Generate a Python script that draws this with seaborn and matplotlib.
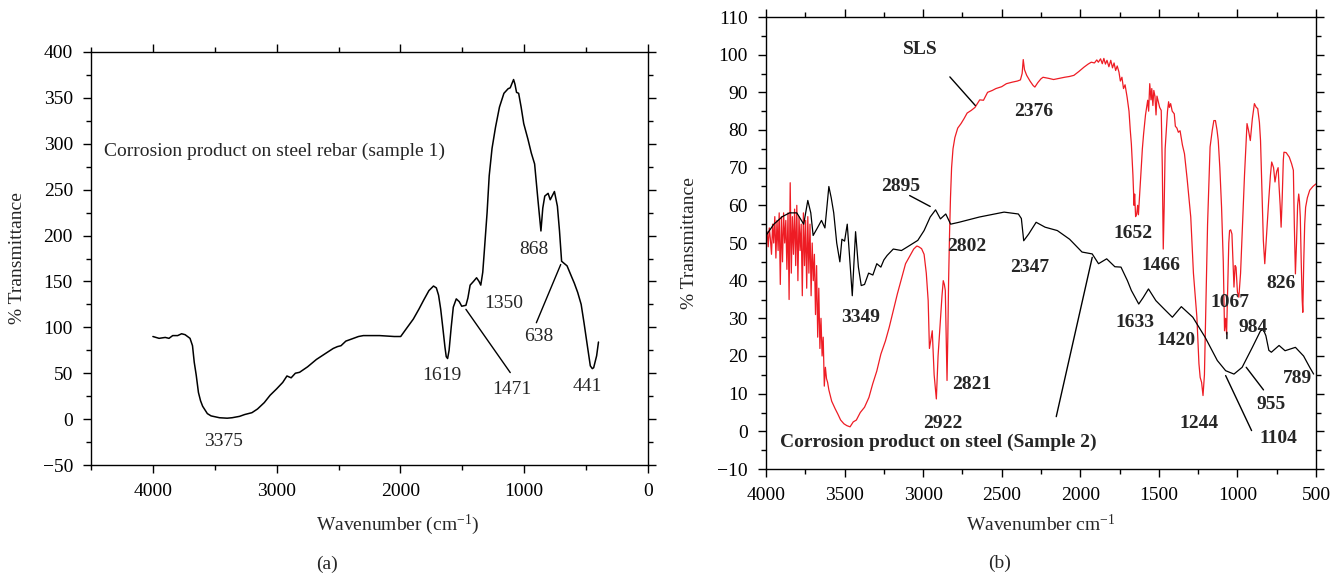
import matplotlib
matplotlib.use("Agg")
import matplotlib.pyplot as plt
import seaborn as sns
import pandas as pd

# ---------------- data: panel (a) ----------------
wn_a = [4000, 3950, 3900, 3870, 3840, 3800, 3768, 3740, 3700, 3680, 3666, 3650, 3632, 3615, 3598,
        3560, 3530, 3462, 3400, 3360, 3300, 3258, 3200, 3155, 3100, 3053, 3000, 2951, 2917, 2883,
        2849, 2815, 2750, 2679, 2600, 2543, 2509, 2480, 2441, 2400, 2339, 2300, 2168, 2050, 1998,
        1950, 1896, 1850, 1811, 1770, 1733, 1710, 1692, 1675, 1658, 1640, 1630, 1619, 1607, 1590,
        1573, 1549, 1525, 1505, 1471, 1455, 1437, 1410, 1385, 1365, 1351, 1335, 1324, 1300, 1283,
        1260, 1232, 1200, 1164, 1130, 1113, 1086, 1075, 1062, 1045, 1025, 1004, 970, 943, 916,
        890, 865, 850, 834, 807, 790, 756, 732, 715, 698, 654, 620, 595, 568, 540, 517, 490, 466,
        450, 439, 415, 400]
tr_a = [90, 88, 89, 88, 91, 91, 93, 92, 88, 80, 62, 48, 29, 20, 14,
        6, 3.5, 1.5, 1, 1.5, 3, 5, 7, 11, 18, 26, 33, 40, 47, 45,
        50, 51, 57, 65, 72, 77, 79, 80, 85, 87, 90, 91, 91, 90, 90,
        99, 109, 120, 130, 140, 145, 143, 135, 120, 100, 78, 68, 66, 75, 100,
        122, 131, 128, 123, 124, 132, 146, 150, 154, 150, 146, 160, 180, 225, 265,
        295, 318, 340, 355, 360, 361, 370, 365, 356, 355, 340, 322, 305, 290, 278,
        240, 205, 230, 243, 246, 239, 248, 232, 205, 172, 167, 156, 148, 138, 125, 105, 80, 58,
        55, 56, 69, 84]

# ---------------- data: panel (b) ----------------
wn_b_black = [4000, 3950, 3896, 3850, 3804, 3760, 3734, 3715, 3700, 3673, 3647, 3625, 3600, 3585,
              3569, 3550, 3530, 3517, 3500, 3483, 3465, 3451, 3440, 3430, 3412, 3394, 3373, 3347,
              3320, 3295, 3269, 3250, 3229, 3190, 3138, 3099, 3034, 2994, 2955, 2921, 2890, 2856,
              2825, 2772, 2642, 2485, 2394, 2375, 2360, 2328, 2281, 2224, 2146, 2068, 1989, 1924,
              1884, 1832, 1780, 1741, 1700, 1675, 1628, 1600, 1566, 1519, 1467, 1414, 1357, 1284,
              1206, 1128, 1075, 1022, 970, 905, 853, 835, 819, 800, 784, 735, 697, 631, 579, 540, 515]
tr_b_black = [52, 55, 57, 58, 58, 55, 61.3, 58, 52, 54, 56, 54, 65, 62,
              58, 50, 45, 51, 50.5, 55, 44.5, 36, 45, 53, 43.6, 38.7, 39, 42,
              41.5, 44.5, 43.6, 45.5, 46.7, 48.4, 48, 49, 50.7, 53.3, 56.9, 58.8, 56.4, 57.7,
              55, 55.5, 56.9, 58.2, 57.7, 56.5, 50.6, 52.4, 55.5, 54.2, 53.3, 51, 47.6, 47.1,
              44.5, 45.8, 43.7, 43.6, 40, 37.4, 33.8, 35.5, 37.8, 34.7, 32.5, 30.3, 33.1, 30.3,
              25, 18.8, 16.1, 15.2, 17, 22.3, 26.7, 27, 25.4, 21.5, 21, 22.8, 21.4, 22.3, 20, 17, 15.2]

wn_b_red = [4000, 3993, 3986, 3979, 3972, 3965, 3958, 3951, 3944, 3937, 3930, 3923, 3916, 3909, 3902,
            3895, 3888, 3881, 3874, 3867, 3860, 3853, 3846, 3839, 3832, 3825, 3818, 3811, 3804, 3797,
            3790, 3783, 3776, 3769, 3762, 3755, 3748, 3741, 3734, 3727, 3720, 3713, 3706, 3699, 3692,
            3685, 3678, 3671, 3664, 3657, 3650, 3643, 3636, 3629, 3622, 3615, 3608,
            3600, 3582, 3560, 3543, 3525, 3504, 3485, 3465, 3445, 3425, 3400, 3373, 3345, 3321, 3295,
            3269, 3240, 3216, 3190, 3164, 3138, 3112, 3085, 3060, 3040, 3028, 3010, 2994, 2980, 2968,
            2960, 2952, 2942, 2930, 2916, 2905, 2890, 2880, 2872, 2865, 2859, 2853, 2848, 2843, 2838,
            2832, 2826, 2819, 2810, 2798, 2780, 2759, 2740, 2720, 2694, 2670, 2640, 2616, 2590, 2560,
            2537, 2500, 2470, 2433, 2400, 2381, 2370, 2363, 2355, 2341, 2320, 2300, 2289, 2270, 2250,
            2237, 2200, 2170, 2146, 2100, 2070, 2041, 2010, 1976, 1950, 1930, 1910, 1895, 1885, 1871,
            1860, 1850, 1840, 1830, 1818, 1806, 1795, 1785, 1775, 1765, 1754, 1745, 1735, 1725, 1715,
            1702, 1690, 1682, 1675, 1665, 1658, 1654, 1648, 1641, 1635, 1630, 1623, 1612, 1605, 1597,
            1585, 1578, 1571, 1565, 1558, 1550, 1545, 1538, 1532, 1525, 1518, 1512, 1506, 1495, 1485,
            1478, 1472, 1466, 1460, 1454, 1445, 1438, 1433, 1425, 1415, 1402, 1395, 1385, 1376, 1365,
            1350, 1337, 1320, 1297, 1280, 1258, 1245, 1237, 1228, 1219, 1210, 1200, 1190, 1174, 1160,
            1150, 1140, 1130, 1122, 1112, 1101, 1090, 1082, 1075, 1069, 1062, 1055, 1050, 1043, 1035,
            1028, 1022, 1015, 1009, 1000, 991, 980, 970, 955, 939, 930, 918, 905, 892, 880,
            871, 860, 853, 845, 835, 826, 815, 801, 790, 782, 770, 761, 750, 741, 735,
            728, 722, 715, 708, 704, 690, 670, 655, 644, 638, 631, 624, 617, 610, 605,
            600, 594, 588, 584, 578, 572, 566, 555, 540, 520, 500]
tr_b_red = [50, 53, 49, 54, 51, 47, 55, 50, 57, 46, 56, 48, 58, 39, 57,
            45, 58, 50, 56, 43, 58, 35, 66, 42, 57, 47, 59, 44, 60, 40,
            57, 48, 55, 36, 58, 44, 56, 38, 57, 42, 55, 36, 50, 40, 47,
            31, 44, 25, 38, 22, 30, 20, 25, 12, 17, 14, 13,
            11, 8, 6, 4.6, 3, 2, 1.5, 1.2, 2.5, 3, 5, 6.4, 9, 12.6, 16,
            20.5, 24, 27.6, 32, 36.5, 40.5, 44.5, 46.5, 48.4, 49.2, 49, 48.5, 47, 42, 34.7,
            22, 24, 26.7, 15, 8.6, 20, 29.4, 36, 40, 39, 37.4, 25, 13.5, 25, 40,
            52.4, 62, 70, 75, 78, 80.5, 81.7, 83, 84.5, 85.2, 86, 88, 87.9, 90, 90.5,
            91, 91.5, 92.3, 92.7, 93, 93.3, 95, 98.7, 96, 94.5, 93, 91.8, 91.4, 92.6, 93.6,
            94, 93.7, 93.4, 93.6, 94, 94.2, 94.5, 95.5, 96.7, 97.5, 98, 97.8, 98.6, 98, 98.9,
            97.6, 99, 97.5, 98.5, 96.8, 98.5, 96.5, 97.8, 95.8, 97, 95.4, 93, 94, 91, 92,
            88.7, 85, 80, 76.3, 68, 60, 63, 57, 57.7, 60, 57.5, 62.2, 70, 75, 79,
            84, 86, 87.9, 85, 92.3, 88, 91, 86.5, 90.5, 89, 84, 89, 87.9, 86, 85.2,
            70, 48.4, 60, 75, 79, 85, 87.5, 86, 87, 85, 84.3, 81, 80.5, 79.4, 79.8,
            76, 73.7, 67, 56.9, 42, 30.3, 18, 14.3, 13, 9.5, 15, 34.7, 55, 75.5, 80,
            82.5, 82.5, 80, 77.2, 70, 59.5, 45, 26.7, 30, 25.8, 38, 50, 53.3, 53.5, 52.4,
            45, 38.3, 44, 43.6, 37, 35.6, 42, 52.4, 68, 81.7, 80, 77.2, 83, 87, 86,
            85.7, 82, 77.2, 65, 50.6, 44.5, 52, 61.3, 68, 71.5, 70, 66.2, 69, 70, 65,
            60, 54.2, 62, 72, 74.1, 74, 72.8, 71, 69.3, 55, 41.8, 50, 60, 63, 61,
            56.9, 45, 35, 31.6, 45, 55, 59.5, 62, 64, 65, 65.7]

# annotations: (text, wavenumber, value)
labels_a = [("3375", 3428, -24), ("1619", 1665, 47), ("1471", 1103, 32.6), ("1350", 1164, 126),
            ("868", 926, 185), ("638", 885, 89.5), ("441", 490, 35)]
leaders_a = [((1471, 119.6), (1113, 50.7)), ((705, 168.5), (902, 105))]
title_a = ("Corrosion product on steel rebar (sample 1)", 4398, 291.7)

labels_b = [("2376", 2297, 84.8), ("2895", 3143, 65), ("2802", 2725, 49), ("2347", 2320, 43.6),
            ("3349", 3399, 30.1), ("2821", 2689, 12.4), ("2922", 2872, 2.1), ("1652", 1662, 52.4),
            ("1466", 1487, 44), ("1633", 1654, 29), ("1420", 1388, 24.1), ("1067", 1048, 34.3),
            ("984", 897, 27.6), ("826", 722, 39.3), ("789", 618, 14.1), ("955", 787, 7),
            ("1244", 1244, 2.1), ("1104", 740, -1.8)]
leaders_b = [((2830, 94.1), (2668, 86.5)), ((3086, 62.6), (2955, 59.7)),
             ((1924, 46.2), (2153, 3.9)), ((1075, 14.8), (910, 0.2)),
             ((944, 17), (834, 11)), ((1067, 26.3), (1067, 24.6))]
sls_label = ("SLS", 3015, 101.4)
title_b = ("Corrosion product on steel (Sample 2)", 3909, -2.9)

# ---------------- style ----------------
sns.set_style("ticks")
plt.rcParams["font.family"] = ["Liberation Serif", "DejaVu Serif"]
plt.rcParams["mathtext.fontset"] = "custom"
plt.rcParams["mathtext.rm"] = "Liberation Serif"
plt.rcParams["mathtext.it"] = "Liberation Serif:italic"
plt.rcParams["mathtext.bf"] = "Liberation Serif:bold"

FS = 14
RED = "#ee1c24"

fig = plt.figure(figsize=(13.44, 5.75), dpi=100)
ax1 = fig.add_axes([91 / 1344, 1 - 465 / 575, 557 / 1344, 413 / 575])
ax2 = fig.add_axes([766 / 1344, 1 - 469 / 575, 550 / 1344, 452 / 575])

df_a = pd.DataFrame({"wn": wn_a, "T": tr_a})
df_bk = pd.DataFrame({"wn": wn_b_black, "T": tr_b_black})
df_rd = pd.DataFrame({"wn": wn_b_red, "T": tr_b_red})

sns.lineplot(data=df_a, x="wn", y="T", ax=ax1, color="black", lw=1.1, sort=False, estimator=None)
sns.lineplot(data=df_rd, x="wn", y="T", ax=ax2, color=RED, lw=0.9, sort=False, estimator=None)
sns.lineplot(data=df_bk, x="wn", y="T", ax=ax2, color="black", lw=0.9, sort=False, estimator=None)

from matplotlib.ticker import MultipleLocator

def style_axes(ax, xmaj, xmin, ymaj, ymin):
    ax.xaxis.set_major_locator(MultipleLocator(xmaj))
    ax.xaxis.set_minor_locator(MultipleLocator(xmin))
    ax.yaxis.set_major_locator(MultipleLocator(ymaj))
    ax.yaxis.set_minor_locator(MultipleLocator(ymin))
    ax.tick_params(which="both", direction="out", top=True, right=True, width=1.0,
                   labelsize=FS, color="black", labelcolor="black")
    ax.tick_params(which="major", length=6, pad=7)
    ax.tick_params(which="minor", length=3.5)
    for s in ax.spines.values():
        s.set_visible(True)
        s.set_linewidth(1.0)
        s.set_color("black")
    ax.set_xlabel("")
    ax.set_ylabel("")

ax1.set_xlim(4500, 0)
ax1.set_ylim(-50, 400)
style_axes(ax1, 1000, 500, 50, 25)
ax2.set_xlim(4000, 500)
ax2.set_ylim(-10, 110)
style_axes(ax2, 500, 250, 10, 5)

# panel (a) text
for t, x, y in labels_a:
    ax1.text(x, y, t, fontsize=FS, ha="center", va="center")
for (p0, p1) in leaders_a:
    ax1.annotate("", xy=p1, xytext=p0, arrowprops=dict(arrowstyle="-", lw=1.0, color="black",
                                                       shrinkA=0, shrinkB=0))
ax1.text(title_a[1], title_a[2], title_a[0], fontsize=FS, ha="left", va="center")

# panel (b) text
for t, x, y in labels_b:
    ax2.text(x, y, t, fontsize=FS, fontweight="bold", ha="center", va="center")
for (p0, p1) in leaders_b:
    ax2.annotate("", xy=p1, xytext=p0, arrowprops=dict(arrowstyle="-", lw=1.0, color="black",
                                                       shrinkA=0, shrinkB=0))
ax2.text(sls_label[1], sls_label[2], sls_label[0], fontsize=FS, fontweight="bold", ha="center", va="center")
ax2.text(title_b[1], title_b[2], title_b[0], fontsize=FS, fontweight="bold", ha="left", va="center")

# axis labels
fig.text(18 / 1344, 1 - 258 / 575, "% Transmittance", rotation=90, fontsize=FS, ha="center", va="center")
fig.text(690 / 1344, 1 - 243 / 575, "% Transmittance", rotation=90, fontsize=FS, ha="center", va="center")
fig.text(398 / 1344, 1 - 525 / 575, r"Wavenumber (cm$^{\mathrm{-1}}$)", fontsize=FS, ha="center", va="center")
fig.text(1041 / 1344, 1 - 524 / 575, r"Wavenumber cm$^{\mathrm{-1}}$", fontsize=FS, ha="center", va="center")
fig.text(327 / 1344, 1 - 564 / 575, "(a)", fontsize=FS, ha="center", va="center")
fig.text(1000 / 1344, 1 - 563 / 575, "(b)", fontsize=FS, ha="center", va="center")

fig.savefig("out.png", dpi=100)
